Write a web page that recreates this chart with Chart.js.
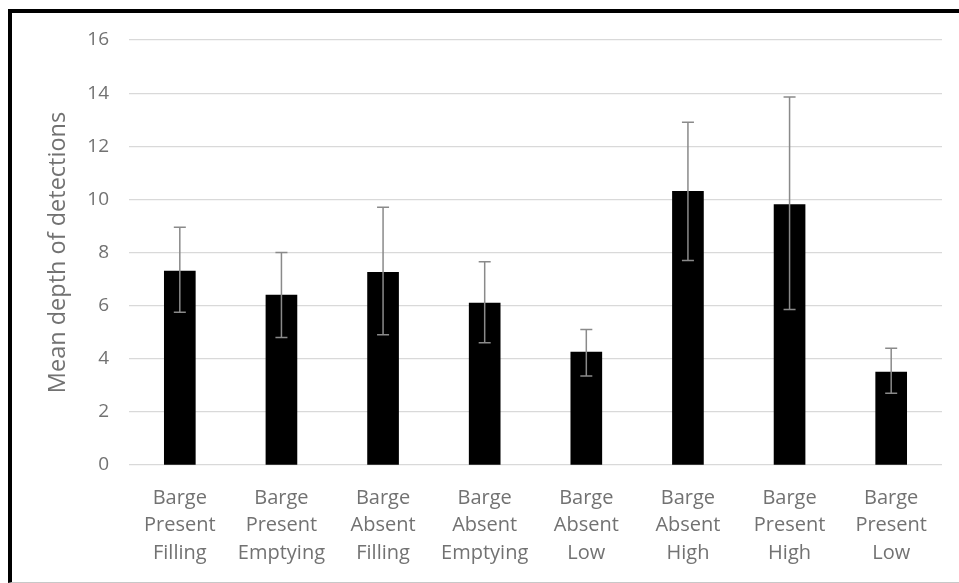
<!DOCTYPE html>
<html>
<head>
<meta charset="utf-8">
<script src="https://cdn.jsdelivr.net/npm/chart.js@4"></script>
<style>
  html, body { margin: 0; padding: 0; background: #fff; }
  body { width: 959px; height: 583px; position: relative; overflow: hidden; }
  #frame {
    position: absolute; left: 8px; top: 9px; width: 1000px; height: 574px;
    box-sizing: border-box;
    border-left: 4px solid #000; border-top: 4px solid #000; border-bottom: 1px solid #c8c8c8;
  }
  #wrap { position: absolute; left: 0; top: 0; width: 959px; height: 583px; }
</style>
</head>
<body>
<div id="frame"></div>
<div id="wrap"><canvas id="myChart"></canvas></div>
<script>
// chart data
var categories = [
  ["Barge", "Present", "Filling"],
  ["Barge", "Present", "Emptying"],
  ["Barge", "Absent", "Filling"],
  ["Barge", "Absent", "Emptying"],
  ["Barge", "Absent", "Low"],
  ["Barge", "Absent", "High"],
  ["Barge", "Present", "High"],
  ["Barge", "Present", "Low"]
];
var meanDepth = [7.3, 6.4, 7.25, 6.1, 4.25, 10.3, 9.8, 3.5];
var errUpper  = [8.95, 8.0, 9.7, 7.65, 5.1, 12.9, 13.85, 4.4];
var errLower  = [5.75, 4.8, 4.9, 4.6, 3.35, 7.7, 5.85, 2.7];
var yTicks = [0, 2, 4, 6, 8, 10, 12, 14, 16];

var textColor = "#727272";

// draws the error bars on top of the bars
var errorBars = {
  id: 'errorBars',
  afterDatasetsDraw: function(chart){
    var ctx = chart.ctx;
    var y = chart.scales.y;
    var meta = chart.getDatasetMeta(0);
    ctx.save();
    ctx.strokeStyle = "#8a8a8a";
    ctx.lineWidth = 1.5;
    meta.data.forEach(function(bar, i){
      var yHi = y.getPixelForValue(errUpper[i]);
      var yLo = y.getPixelForValue(errLower[i]);
      ctx.beginPath();
      ctx.moveTo(bar.x, yHi);
      ctx.lineTo(bar.x, yLo);
      ctx.moveTo(bar.x - 6, yHi);
      ctx.lineTo(bar.x + 6, yHi);
      ctx.moveTo(bar.x - 6, yLo);
      ctx.lineTo(bar.x + 6, yLo);
      ctx.stroke();
    });
    ctx.restore();
  }
};

var ctx = document.getElementById("myChart");
new Chart(ctx, {
  type: 'bar',
  data: {
    labels: categories,
    datasets: [{
      data: meanDepth,
      backgroundColor: "#000000",
      barThickness: 31
    }]
  },
  plugins: [errorBars],
  options: {
    responsive: true,
    maintainAspectRatio: false,
    animation: false,
    layout: {
      padding: { left: 40, right: 17, top: 40, bottom: 16 }
    },
    plugins: {
      legend: { display: false },
      tooltip: { enabled: false }
    },
    scales: {
      x: {
        afterFit: function(scale){ scale.height = 102; },
        grid: { display: false, drawTicks: false },
        border: { display: false },
        ticks: {
          color: textColor,
          padding: 19,
          maxRotation: 0,
          autoSkip: false,
          font: { family: "'Open Sans', sans-serif", size: 20, lineHeight: 1.385 }
        }
      },
      y: {
        min: 0,
        max: 16,
        afterFit: function(scale){ scale.width = 89; },
        afterBuildTicks: function(scale){
          scale.ticks = yTicks.map(function(v){ return { value: v }; });
        },
        grid: { color: "#d9d9d9", lineWidth: 1.2, drawTicks: false },
        border: { display: false },
        ticks: {
          color: textColor,
          padding: 20,
          font: { family: "'Open Sans', sans-serif", size: 19 }
        },
        title: {
          display: true,
          text: "Mean depth of detections",
          color: textColor,
          font: { family: "'Open Sans', sans-serif", size: 23.5 }
        }
      }
    }
  }
});
</script>
</body>
</html>
